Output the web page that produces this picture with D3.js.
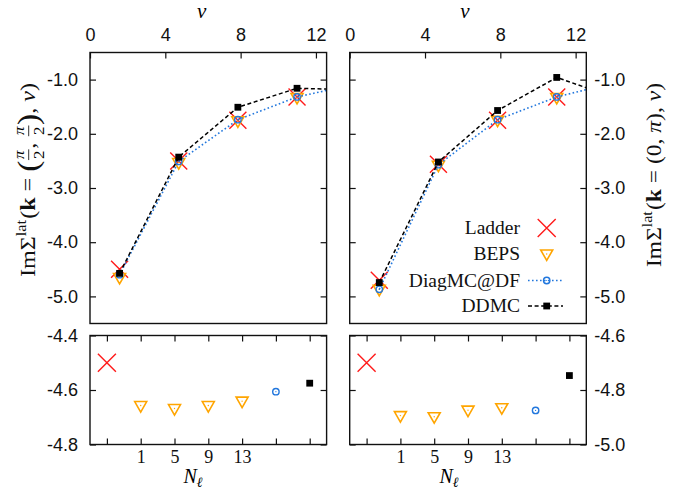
<!DOCTYPE html>
<html><head><meta charset="utf-8">
<script src="https://cdn.jsdelivr.net/npm/d3@7"></script>
<style>body{margin:0;background:#fff}svg{display:block}</style>
</head><body>
<svg id="chart" width="681" height="491"></svg>
<script>
// ---------------- data ----------------
const nu = [1.571, 4.712, 7.854, 10.996, 14.137];
const nuTicks = [0, 4, 8, 12];

// k = (pi/2, pi/2)
const ladderA = [-4.50, -2.50, -1.75, -1.32];
const bepsA   = [-4.65, -2.53, -1.76, -1.33];
const diagA   = [-4.60, -2.51, -1.74, -1.32, -1.08];
const ddmcA   = [-4.575, -2.43, -1.51, -1.16, -1.19];

// k = (0, pi)
const ladderB = [-4.70, -2.56, -1.75, -1.32];
const bepsB   = [-4.87, -2.58, -1.75, -1.33];
const diagB   = [-4.87, -2.57, -1.74, -1.32, -1.05];
const ddmcB   = [-4.745, -2.52, -1.57, -0.96, -1.34];

const topYTicks = [-1, -2, -3, -4, -5];

// inset panels (first frequency)
const categories = ["Ladder", "1", "5", "9", "13", "DiagMC@DF", "DDMC"];
const bepsN = ["1", "5", "9", "13"];
const insetLadderA = -4.50, insetDiagA = -4.606, insetDdmcA = -4.575;
const insetBepsA = [-4.657, -4.668, -4.657, -4.641];
const insetLadderB = -4.70, insetDiagB = -4.875, insetDdmcB = -4.747;
const insetBepsB = [-4.894, -4.898, -4.874, -4.865];
const insetTicksA = [-4.4, -4.6, -4.8];
const insetTicksB = [-4.6, -4.8, -5.0];

const legendNames = ["Ladder", "BEPS", "DiagMC@DF", "DDMC"];

// ---------------- style ----------------
const RED = "#ff1a1a", ORANGE = "#ffa500", BLUE = "#2277dd", BLACK = "#000";
const SERIF = "'Liberation Serif','DejaVu Serif',serif";
const SANS = "'Liberation Sans',Arial,sans-serif";

const svg = d3.select("#chart");

const panels = [
  {x0: 90, x1: 326.6, side: "left", ladder: ladderA, beps: bepsA, diag: diagA, ddmc: ddmcA,
   iL: insetLadderA, iD: insetDiagA, iS: insetDdmcA, iB: insetBepsA, iT: insetTicksA,
   iDom: [-4.8, -4.4], nuLabelX: 201.7, nlX: 193, id: "a"},
  {x0: 349.7, x1: 586.3, side: "right", ladder: ladderB, beps: bepsB, diag: diagB, ddmc: ddmcB,
   iL: insetLadderB, iD: insetDiagB, iS: insetDdmcB, iB: insetBepsB, iT: insetTicksB,
   iDom: [-5.0, -4.6], nuLabelX: 465, nlX: 449, id: "b"}
];
const topY0 = 52.5, topY1 = 323.5, botY0 = 335.5, botY1 = 444.5;

const fmt = d => d.toFixed(1);

function xMark(g, x, y, s) {
  g.append("path").attr("d", `M${x-s},${y-s}L${x+s},${y+s}M${x-s},${y+s}L${x+s},${y-s}`)
    .attr("stroke", RED).attr("stroke-width", 1.4).attr("fill", "none");
}
function triMark(g, x, y) {
  g.append("path").attr("d", `M${x-6},${y-4}L${x+6},${y-4}L${x},${y+6.5}Z`)
    .attr("stroke", ORANGE).attr("stroke-width", 1.6).attr("fill", "none").attr("stroke-linejoin", "miter");
  g.append("circle").attr("cx", x).attr("cy", y).attr("r", 0.7).attr("fill", ORANGE);
}
function circMark(g, x, y) {
  g.append("circle").attr("cx", x).attr("cy", y).attr("r", 3.2)
    .attr("stroke", BLUE).attr("stroke-width", 1.4).attr("fill", "none");
  g.append("circle").attr("cx", x).attr("cy", y).attr("r", 0.6).attr("fill", BLUE);
}
function sqMark(g, x, y) {
  g.append("rect").attr("x", x-3.4).attr("y", y-3.4).attr("width", 6.8).attr("height", 6.8).attr("fill", BLACK);
}

function styleAxis(g, font, size) {
  g.select(".domain").remove();
  g.selectAll(".tick line").attr("stroke", "#111").attr("stroke-width", 1.2);
  g.selectAll(".tick text").attr("font-family", font).attr("font-size", size).attr("fill", "#111");
}

panels.forEach(p => {
  const x = d3.scaleLinear().domain([0, 4*Math.PI]).range([p.x0, p.x1]);
  const y = d3.scaleLinear().domain([-5.5, -0.5]).range([topY1, topY0]);

  svg.append("clipPath").attr("id", "clip" + p.id).append("rect")
    .attr("x", p.x0).attr("y", topY0).attr("width", p.x1 - p.x0).attr("height", topY1 - topY0);

  const gx = svg.append("g").attr("transform", `translate(0,${topY0})`)
    .call(d3.axisTop(x).tickValues(nuTicks).tickSize(-6).tickPadding(11.5).tickFormat(d => d));
  styleAxis(gx, SANS, 18);

  const yl = svg.append("g").attr("transform", `translate(${p.x0},0)`)
    .call(d3.axisLeft(y).tickValues(topYTicks).tickSize(-6).tickPadding(12).tickFormat(p.side === "left" ? fmt : ""));
  styleAxis(yl, SANS, 18);
  const yr = svg.append("g").attr("transform", `translate(${p.x1},0)`)
    .call(d3.axisRight(y).tickValues(topYTicks).tickSize(-6).tickPadding(8).tickFormat(p.side === "right" ? fmt : ""));
  styleAxis(yr, SANS, 18);

  const plot = svg.append("g").attr("clip-path", `url(#clip${p.id})`);
  const line = d3.line().x((d, i) => x(nu[i])).y(d => y(d));
  p.ladder.forEach((v, i) => xMark(plot, x(nu[i]), y(v), 8.5));
  p.beps.forEach((v, i) => triMark(plot, x(nu[i]), y(v)));
  plot.append("path").attr("d", line(p.diag)).attr("fill", "none").attr("stroke", BLUE)
    .attr("stroke-width", 1.6).attr("stroke-dasharray", "1.6,2.4");
  p.diag.forEach((v, i) => circMark(plot, x(nu[i]), y(v)));
  plot.append("path").attr("d", line(p.ddmc)).attr("fill", "none").attr("stroke", BLACK)
    .attr("stroke-width", 1.5).attr("stroke-dasharray", "4,2.6");
  p.ddmc.forEach((v, i) => sqMark(plot, x(nu[i]), y(v)));

  svg.append("rect").attr("x", p.x0).attr("y", topY0).attr("width", p.x1 - p.x0).attr("height", topY1 - topY0)
    .attr("fill", "none").attr("stroke", "#111").attr("stroke-width", 1.4);

  svg.append("text").attr("x", p.nuLabelX).attr("y", 18).attr("text-anchor", "middle")
    .attr("font-family", SERIF).attr("font-style", "italic").attr("font-size", 21).text("ν");

  // ---------- inset ----------
  const xc = d3.scalePoint().domain(categories).range([p.x0, p.x1]).padding(0.5);
  const yi = d3.scaleLinear().domain(p.iDom).range([botY1, botY0]);

  const bx = svg.append("g").attr("transform", `translate(0,${botY1})`)
    .call(d3.axisBottom(xc).tickSize(-6).tickPadding(6).tickFormat(d => bepsN.includes(d) ? d : ""));
  styleAxis(bx, SERIF, 18);
  const tx = svg.append("g").attr("transform", `translate(0,${botY0})`)
    .call(d3.axisTop(xc).tickSize(-6).tickFormat(""));
  styleAxis(tx, SERIF, 18);
  const il = svg.append("g").attr("transform", `translate(${p.x0},0)`)
    .call(d3.axisLeft(yi).tickValues(p.iT).tickSize(-6).tickPadding(12).tickFormat(p.side === "left" ? fmt : ""));
  styleAxis(il, SANS, 18);
  const ir = svg.append("g").attr("transform", `translate(${p.x1},0)`)
    .call(d3.axisRight(yi).tickValues(p.iT).tickSize(-6).tickPadding(8).tickFormat(p.side === "right" ? fmt : ""));
  styleAxis(ir, SANS, 18);

  const ig = svg.append("g");
  xMark(ig, xc("Ladder"), yi(p.iL), 9);
  p.iB.forEach((v, i) => triMark(ig, xc(bepsN[i]), yi(v)));
  circMark(ig, xc("DiagMC@DF"), yi(p.iD));
  sqMark(ig, xc("DDMC"), yi(p.iS));

  svg.append("rect").attr("x", p.x0).attr("y", botY0).attr("width", p.x1 - p.x0).attr("height", botY1 - botY0)
    .attr("fill", "none").attr("stroke", "#111").attr("stroke-width", 1.4);

  const nl = svg.append("text").attr("x", p.nlX).attr("y", 483).attr("text-anchor", "middle")
    .attr("font-family", SERIF).attr("font-size", 20);
  nl.append("tspan").attr("font-style", "italic").text("N");
  nl.append("tspan").attr("font-size", 14).attr("font-style", "italic").attr("dy", 4).text("ℓ");
});

// ---------- legend ----------
const lg = svg.append("g");
const legY = [233.5, 260, 286.5, 312];
legendNames.forEach((n, i) => {
  lg.append("text").attr("x", 520).attr("y", legY[i]).attr("text-anchor", "end")
    .attr("font-family", SERIF).attr("font-size", 19.5).attr("fill", "#111").text(n);
});
const sx = 546.7;
xMark(lg, sx, legY[0] - 5.5, 9);
triMark(lg, sx, legY[1] - 6);
lg.append("line").attr("x1", 528).attr("x2", 563).attr("y1", legY[2] - 6).attr("y2", legY[2] - 6)
  .attr("stroke", BLUE).attr("stroke-width", 1.6).attr("stroke-dasharray", "1.6,2.4");
circMark(lg, sx, legY[2] - 6);
lg.append("line").attr("x1", 528).attr("x2", 563).attr("y1", legY[3] - 6).attr("y2", legY[3] - 6)
  .attr("stroke", BLACK).attr("stroke-width", 1.5).attr("stroke-dasharray", "4,2.6");
sqMark(lg, sx, legY[3] - 6);

// ---------- rotated math labels ----------
function mathLabel(cx, cy, pieces, size, target) {
  const outer = svg.append("g").attr("transform", `translate(${cx},${cy}) rotate(-90)`);
  const g = outer.append("g");
  let x = 0;
  pieces.forEach(p => {
    if (p.frac) {
      const fs = size * 0.7;
      const a = g.append("text").attr("x", x).attr("y", -size * 0.52).attr("font-family", SERIF)
        .attr("font-size", fs).attr("font-style", "italic").text(p.frac[0]);
      const b = g.append("text").attr("x", x).attr("y", size * 0.45).attr("font-family", SERIF)
        .attr("font-size", fs).text(p.frac[1]);
      const w = Math.max(a.node().getComputedTextLength(), b.node().getComputedTextLength()) + 3;
      a.attr("x", x + 1.5 + (w - 3 - a.node().getComputedTextLength()) / 2);
      b.attr("x", x + 1.5 + (w - 3 - b.node().getComputedTextLength()) / 2);
      g.append("line").attr("x1", x + 0.5).attr("x2", x + w - 0.5).attr("y1", -size * 0.3).attr("y2", -size * 0.3)
        .attr("stroke", "#111").attr("stroke-width", 0.8);
      x += w;
    } else {
      const fs = p.sup ? size * 0.68 : (p.big ? size * 1.4 : size);
      const t = g.append("text").attr("x", x).attr("y", p.sup ? -size * 0.45 : (p.big ? size * 0.14 : 0))
        .attr("font-family", SERIF).attr("font-size", fs).attr("fill", "#111")
        .attr("font-style", p.it ? "italic" : "normal").attr("font-weight", p.bold ? "bold" : "normal")
        .style("white-space", "pre").text(p.t);
      x += t.node().getComputedTextLength() + (p.gap || 0);
    }
  });
  const s = target / x;
  g.attr("transform", `translate(${-target / 2},0) scale(${s},1)`);
}

mathLabel(35, 180, [
  {t: "Im"}, {t: "Σ"}, {t: "lat", sup: true, gap: 1}, {t: "("}, {t: "k", bold: true}, {t: " = "},
  {t: "(", big: true}, {frac: ["π", "2"]}, {t: ", "}, {frac: ["π", "2"]}, {t: ")", big: true},
  {t: ", "}, {t: "ν", it: true}, {t: ")"}
], 21, 194);

mathLabel(661, 175, [
  {t: "Im"}, {t: "Σ"}, {t: "lat", sup: true, gap: 1}, {t: "("}, {t: "k", bold: true}, {t: " = ("},
  {t: "0, "}, {t: "π", it: true}, {t: "), "}, {t: "ν", it: true}, {t: ")"}
], 21, 184);
</script>
</body></html>
